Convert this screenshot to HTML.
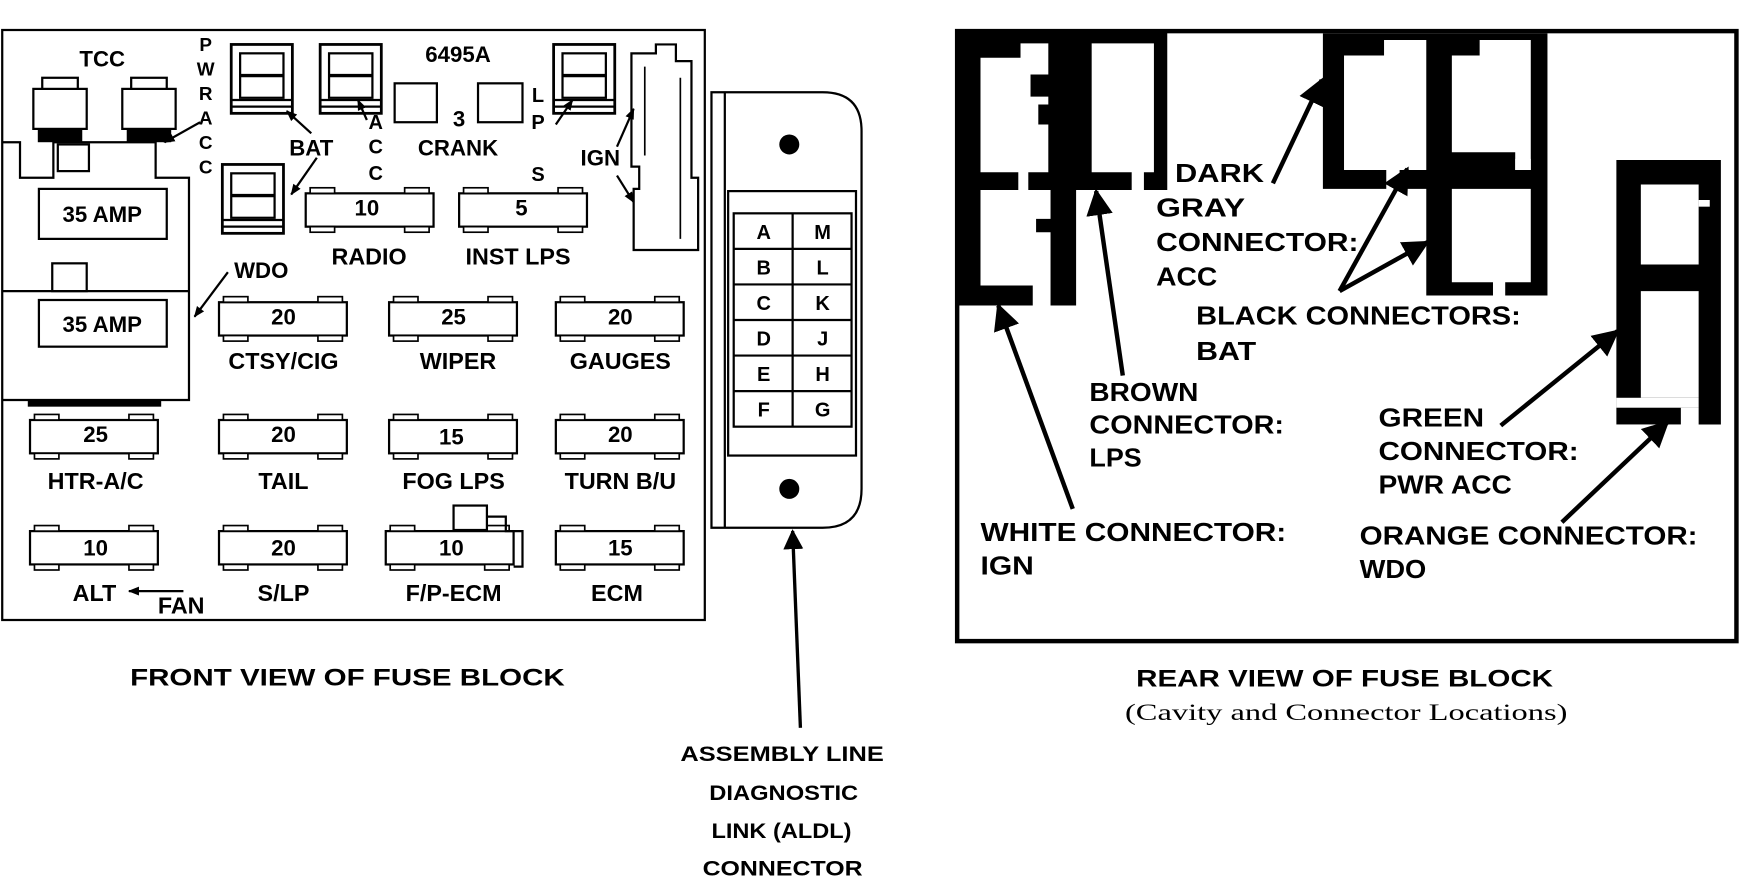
<!DOCTYPE html>
<html><head><meta charset="utf-8"><style>
html,body{margin:0;padding:0;background:#fff;}
svg{display:block;}
text{font-family:"Liberation Sans",sans-serif;font-weight:bold;fill:#000;}
.s{font-family:"Liberation Serif",serif;font-weight:normal;}
</style></head><body>
<svg width="1742" height="880" viewBox="0 0 1567 792" preserveAspectRatio="none" xmlns="http://www.w3.org/2000/svg">
<defs>
<marker id="ah" viewBox="0 0 10 10" refX="9" refY="5" markerWidth="6" markerHeight="6" orient="auto-start-reverse"><path d="M0,0 L10,5 L0,10 z" fill="#000"/></marker>
<marker id="ahs" viewBox="0 0 10 10" refX="9" refY="5" markerWidth="5" markerHeight="5" orient="auto"><path d="M0,1 L10,5 L0,9 z" fill="#000"/></marker>
<g id="fuse">
<rect x="0" y="0" width="115" height="30" fill="#fff" stroke="#000" stroke-width="2"/>
<rect x="4" y="-5" width="22" height="5" fill="#fff" stroke="#000" stroke-width="1.5"/>
<rect x="89" y="-5" width="22" height="5" fill="#fff" stroke="#000" stroke-width="1.5"/>
<rect x="4" y="30" width="22" height="5" fill="#fff" stroke="#000" stroke-width="1.5"/>
<rect x="89" y="30" width="22" height="5" fill="#fff" stroke="#000" stroke-width="1.5"/>
</g>
<g id="conn">
<rect x="0" y="0" width="55" height="62" fill="#fff" stroke="#000" stroke-width="2.5"/>
<rect x="8" y="8" width="39" height="40" fill="#fff" stroke="#000" stroke-width="2"/>
<line x1="8" y1="28" x2="47" y2="28" stroke="#000" stroke-width="3"/>
<line x1="0" y1="50" x2="55" y2="50" stroke="#000" stroke-width="2"/>
<line x1="0" y1="56" x2="55" y2="56" stroke="#000" stroke-width="2"/>
</g>
</defs>

<!-- FRONT VIEW -->
<rect x="2" y="27" width="632" height="531" fill="none" stroke="#000" stroke-width="2"/>
<path d="M2,128 H18 V160 H48 V128 H140 V160 H170 V360 H2" fill="none" stroke="#000" stroke-width="2"/>
<line x1="2" y1="262" x2="170" y2="262" stroke="#000" stroke-width="2"/>
<rect x="52" y="130" width="28" height="24" fill="none" stroke="#000" stroke-width="2"/>
<rect x="47" y="237" width="31" height="25" fill="none" stroke="#000" stroke-width="2"/>
<rect x="35" y="170" width="115" height="45" fill="none" stroke="#000" stroke-width="2"/>
<rect x="35" y="270" width="115" height="42" fill="none" stroke="#000" stroke-width="2"/>
<text x="92" y="200" font-size="20" text-anchor="middle">35 AMP</text>
<text x="92" y="299" font-size="20" text-anchor="middle">35 AMP</text>
<rect x="30" y="80" width="48" height="36" fill="#fff" stroke="#000" stroke-width="2"/>
<rect x="38" y="70" width="32" height="10" fill="#fff" stroke="#000" stroke-width="2"/>
<rect x="110" y="80" width="48" height="36" fill="#fff" stroke="#000" stroke-width="2"/>
<rect x="118" y="70" width="32" height="10" fill="#fff" stroke="#000" stroke-width="2"/>
<rect x="34" y="116" width="40" height="12" fill="#000"/>
<rect x="114" y="116" width="40" height="12" fill="#000"/>
<text x="92" y="60" font-size="20" text-anchor="middle">TCC</text>
<g font-size="17" text-anchor="middle">
<text x="185" y="46">P</text><text x="185" y="68">W</text><text x="185" y="90">R</text><text x="185" y="112">A</text><text x="185" y="134">C</text><text x="185" y="156">C</text>
</g>
<use href="#conn" x="208" y="40"/>
<use href="#conn" x="288" y="40"/>
<use href="#conn" x="498" y="40"/>
<use href="#conn" x="200" y="148"/>
<rect x="355" y="75" width="38" height="35" fill="#fff" stroke="#000" stroke-width="2"/>
<rect x="430" y="75" width="40" height="35" fill="#fff" stroke="#000" stroke-width="2"/>
<text x="412" y="56" font-size="20" text-anchor="middle">6495A</text>
<text x="413" y="114" font-size="20" text-anchor="middle">3</text>
<text x="412" y="140" font-size="20" text-anchor="middle">CRANK</text>
<text x="280" y="140" font-size="20" text-anchor="middle">BAT</text>
<g font-size="18" text-anchor="middle"><text x="338" y="116">A</text><text x="338" y="138">C</text><text x="338" y="162">C</text>
<text x="484" y="92">L</text><text x="484" y="116">P</text><text x="484" y="163">S</text></g>
<text x="540" y="149" font-size="20" text-anchor="middle">IGN</text>
<text x="235" y="250" font-size="20" text-anchor="middle">WDO</text>
<path d="M568,48 H590 V40 H608 V55 H622 V160 H628 V225 H570 V170 H575 V150 H568 Z" fill="#fff" stroke="#000" stroke-width="2"/>
<line x1="580" y1="60" x2="580" y2="140" stroke="#000" stroke-width="1.5"/>
<line x1="612" y1="70" x2="612" y2="215" stroke="#000" stroke-width="1.5"/>
<g stroke="#000" stroke-width="2" fill="none">
<line x1="280" y1="120" x2="258" y2="100" marker-end="url(#ahs)"/>
<line x1="330" y1="108" x2="322" y2="90" marker-end="url(#ahs)"/>
<line x1="180" y1="110" x2="148" y2="128" marker-end="url(#ahs)"/>
<line x1="285" y1="142" x2="262" y2="175" marker-end="url(#ahs)"/>
<line x1="500" y1="112" x2="515" y2="90" marker-end="url(#ahs)"/>
<line x1="555" y1="132" x2="570" y2="98" marker-end="url(#ahs)"/>
<line x1="555" y1="158" x2="570" y2="182" marker-end="url(#ahs)"/>
<line x1="205" y1="245" x2="175" y2="285" marker-end="url(#ahs)"/>
<line x1="165" y1="532" x2="116" y2="532" marker-end="url(#ahs)"/>
</g>
<use href="#fuse" x="275" y="174"/><use href="#fuse" x="413" y="174"/>
<use href="#fuse" x="197" y="272"/><use href="#fuse" x="350" y="272"/><use href="#fuse" x="500" y="272"/>
<use href="#fuse" x="27" y="378"/><use href="#fuse" x="197" y="378"/><use href="#fuse" x="350" y="378"/><use href="#fuse" x="500" y="378"/>
<use href="#fuse" x="27" y="478"/><use href="#fuse" x="197" y="478"/><use href="#fuse" x="347" y="478"/><use href="#fuse" x="500" y="478"/>
<rect x="408" y="455" width="30" height="22" fill="#fff" stroke="#000" stroke-width="2"/>
<path d="M438,465 H455 V478 H470 V510 H462" fill="none" stroke="#000" stroke-width="2"/>
<rect x="25" y="360" width="120" height="6" fill="#000"/>
<g font-size="20" text-anchor="middle">
<text x="330" y="194">10</text><text x="469" y="194">5</text>
<text x="255" y="292">20</text><text x="408" y="292">25</text><text x="558" y="292">20</text>
<text x="86" y="398">25</text><text x="255" y="398">20</text><text x="406" y="400">15</text><text x="558" y="398">20</text>
<text x="86" y="500">10</text><text x="255" y="500">20</text><text x="406" y="500">10</text><text x="558" y="500">15</text>
</g>
<g font-size="21" text-anchor="middle">
<text x="332" y="238">RADIO</text><text x="466" y="238">INST LPS</text>
<text x="255" y="332">CTSY/CIG</text><text x="412" y="332">WIPER</text><text x="558" y="332">GAUGES</text>
<text x="86" y="440">HTR-A/C</text><text x="255" y="440">TAIL</text><text x="408" y="440">FOG LPS</text><text x="558" y="440">TURN B/U</text>
<text x="85" y="541">ALT</text><text x="163" y="552">FAN</text><text x="255" y="541">S/LP</text><text x="408" y="541">F/P-ECM</text><text x="555" y="541">ECM</text>
</g>

<path d="M640,83 H740 Q775,83 775,118 V440 Q775,475 740,475 H640 Z" fill="#fff" stroke="#000" stroke-width="2"/>
<line x1="652" y1="83" x2="652" y2="475" stroke="#000" stroke-width="2"/>
<circle cx="710" cy="130" r="9" fill="#000"/>
<circle cx="710" cy="440" r="9" fill="#000"/>
<rect x="655" y="172" width="115" height="238" fill="#fff" stroke="#000" stroke-width="2"/>
<rect x="660" y="192" width="106" height="192" fill="#fff" stroke="#000" stroke-width="2"/>
<line x1="713" y1="192" x2="713" y2="384" stroke="#000" stroke-width="2"/>
<g stroke="#000" stroke-width="2"><line x1="660" y1="224" x2="766" y2="224"/><line x1="660" y1="256" x2="766" y2="256"/><line x1="660" y1="288" x2="766" y2="288"/><line x1="660" y1="320" x2="766" y2="320"/><line x1="660" y1="352" x2="766" y2="352"/></g>
<g font-size="18" text-anchor="middle">
<text x="687" y="215">A</text><text x="740" y="215">M</text>
<text x="687" y="247">B</text><text x="740" y="247">L</text>
<text x="687" y="279">C</text><text x="740" y="279">K</text>
<text x="687" y="311">D</text><text x="740" y="311">J</text>
<text x="687" y="343">E</text><text x="740" y="343">H</text>
<text x="687" y="375">F</text><text x="740" y="375">G</text>
</g>
<line x1="720" y1="655" x2="713" y2="478" stroke="#000" stroke-width="3" marker-end="url(#ah)"/>
<g font-size="19" font-weight="normal">
<text x="612" y="685" textLength="183" lengthAdjust="spacingAndGlyphs" font-weight="normal">ASSEMBLY LINE</text>
<text x="638" y="720" textLength="134" lengthAdjust="spacingAndGlyphs" font-weight="normal">DIAGNOSTIC</text>
<text x="640" y="754" textLength="126" lengthAdjust="spacingAndGlyphs" font-weight="normal">LINK (ALDL)</text>
<text x="632" y="788" textLength="144" lengthAdjust="spacingAndGlyphs" font-weight="normal">CONNECTOR</text>
</g>
<text x="117" y="617" font-size="22" textLength="391" lengthAdjust="spacingAndGlyphs">FRONT VIEW OF FUSE BLOCK</text>

<!-- REAR VIEW -->
<rect x="861" y="28" width="701" height="549" fill="none" stroke="#000" stroke-width="4"/>
<path fill="#000" fill-rule="evenodd" d="M861,28 H1050 V171 H968 V275 H945 V257 H929 V275 H861 Z
 M882,52 H918 V39 H943 V67 H927 V87 H943 V94 H934 V112 H943 V155 H882 Z
 M982,39 H1038 V155 H982 Z
 M916,155 H925 V171 H916 Z
 M1018,155 H1029 V171 H1018 Z
 M882,171 H945 V197 H932 V209 H945 V257 H882 Z"/>
<path fill="#000" fill-rule="evenodd" d="M1190,30 H1392 V266 H1354 V254 H1343 V266 H1283 V170 H1259 V153 H1247 V170 H1190 Z
 M1209,50 H1245 V36 H1283 V153 H1209 Z
 M1306,50 H1331 V36 H1377 V137 H1363 V153 H1377 V137 H1306 Z
 M1306,170 H1377 V254 H1306 Z"/>
<rect x="1363" y="143" width="14" height="10" fill="#fff"/>
<path fill="#000" fill-rule="evenodd" d="M1454,144 H1548 V382 H1528 V367 H1454 Z
 M1476,166 H1528 V238 H1476 Z
 M1476,262 H1528 V358 H1476 Z"/>
<rect x="1454" y="358" width="74" height="9" fill="#fff"/>
<rect x="1454" y="367" width="58" height="15" fill="#000"/>
<rect x="1528" y="180" width="10" height="6" fill="#fff"/>
<g stroke="#000" stroke-width="4" fill="none">
<line x1="965" y1="458" x2="898" y2="275" marker-end="url(#ah)"/>
<line x1="1010" y1="338" x2="986" y2="172" marker-end="url(#ah)"/>
<line x1="1145" y1="165" x2="1189" y2="72" marker-end="url(#ah)"/>
<line x1="1205" y1="262" x2="1266" y2="152" marker-end="url(#ah)"/>
<line x1="1205" y1="262" x2="1284" y2="218" marker-end="url(#ah)"/>
<line x1="1350" y1="383" x2="1455" y2="298" marker-end="url(#ah)"/>
<line x1="1405" y1="470" x2="1500" y2="380" marker-end="url(#ah)"/>
</g>
<g font-size="23">
<text x="1057" y="164" textLength="80" lengthAdjust="spacingAndGlyphs">DARK</text>
<text x="1040" y="195" textLength="80" lengthAdjust="spacingAndGlyphs">GRAY</text>
<text x="1040" y="226" textLength="182" lengthAdjust="spacingAndGlyphs">CONNECTOR:</text>
<text x="1040" y="257" textLength="55" lengthAdjust="spacingAndGlyphs" font-weight="normal">ACC</text>
<text x="1076" y="292" textLength="292" lengthAdjust="spacingAndGlyphs">BLACK CONNECTORS:</text>
<text x="1076" y="324" textLength="54" lengthAdjust="spacingAndGlyphs" font-weight="normal">BAT</text>
<text x="980" y="361" textLength="98" lengthAdjust="spacingAndGlyphs">BROWN</text>
<text x="980" y="390" textLength="175" lengthAdjust="spacingAndGlyphs">CONNECTOR:</text>
<text x="980" y="420" textLength="47" lengthAdjust="spacingAndGlyphs" font-weight="normal">LPS</text>
<text x="1240" y="384" textLength="95" lengthAdjust="spacingAndGlyphs">GREEN</text>
<text x="1240" y="414" textLength="180" lengthAdjust="spacingAndGlyphs">CONNECTOR:</text>
<text x="1240" y="444" textLength="120" lengthAdjust="spacingAndGlyphs" font-weight="normal">PWR ACC</text>
<text x="882" y="487" textLength="275" lengthAdjust="spacingAndGlyphs">WHITE CONNECTOR:</text>
<text x="882" y="517" textLength="48" lengthAdjust="spacingAndGlyphs" font-weight="normal">IGN</text>
<text x="1223" y="490" textLength="304" lengthAdjust="spacingAndGlyphs">ORANGE CONNECTOR:</text>
<text x="1223" y="520" textLength="60" lengthAdjust="spacingAndGlyphs" font-weight="normal">WDO</text>
</g>
<text x="1022" y="618" font-size="22" textLength="375" lengthAdjust="spacingAndGlyphs">REAR VIEW OF FUSE BLOCK</text>
<text x="1012" y="648" font-size="21" textLength="398" lengthAdjust="spacingAndGlyphs" class="s">(Cavity and Connector Locations)</text>
</svg>
</body></html>
